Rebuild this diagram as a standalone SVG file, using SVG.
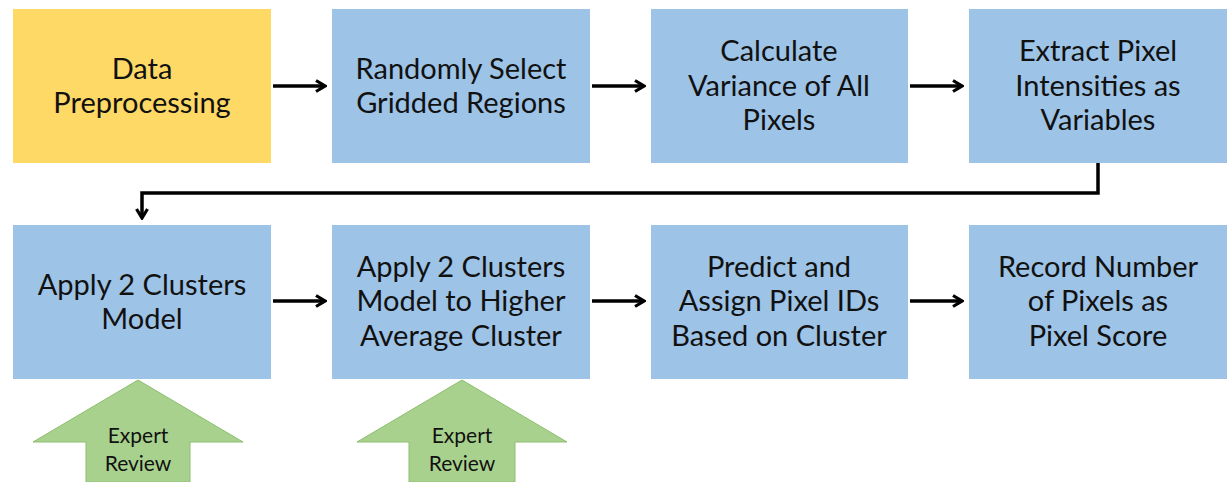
<svg xmlns="http://www.w3.org/2000/svg" width="1231" height="482" viewBox="0 0 1231 482">
<defs>
<style>
.box{fill:#9DC3E6}
.y{fill:#FFD966}
.t{font-family:Lato,"Open Sans",sans-serif;font-size:29px;fill:#111;text-anchor:middle;dominant-baseline:central}
.g{font-family:Lato,"Open Sans",sans-serif;font-size:21px;fill:#111;text-anchor:middle;dominant-baseline:central}
.c{fill:none;stroke:#000;stroke-width:3.5}
.ga{fill:#A9D18E;stroke:#8DBF6E;stroke-width:1}
</style>
<marker id="ah" viewBox="0 0 14 14" refX="12" refY="7" markerWidth="14" markerHeight="14" markerUnits="userSpaceOnUse" orient="auto">
<path d="M3,1.5 L12,7 L3,12.5" fill="none" stroke="#000" stroke-width="3.2"/>
</marker>
</defs>
<rect width="1231" height="482" fill="#fff"/>
<g id="n1"><rect class="y" x="13" y="9" width="258" height="154"/><text class="t" x="142" y="67">Data</text><text class="t" x="142" y="101">Preprocessing</text></g>
<g id="n2"><rect class="box" x="332" y="9" width="258" height="154"/><text class="t" x="461" y="67">Randomly Select</text><text class="t" x="461" y="101">Gridded Regions</text></g>
<g id="n3"><rect class="box" x="651" y="9" width="257" height="154"/><text class="t" x="779" y="49">Calculate</text><text class="t" x="779" y="84">Variance of All</text><text class="t" x="779" y="118">Pixels</text></g>
<g id="n4"><rect class="box" x="969" y="9" width="258" height="154"/><text class="t" x="1098" y="49">Extract Pixel</text><text class="t" x="1098" y="84">Intensities as</text><text class="t" x="1098" y="118">Variables</text></g>
<g id="n5"><rect class="box" x="13" y="225" width="258" height="154"/><text class="t" x="142" y="283">Apply 2 Clusters</text><text class="t" x="142" y="317">Model</text></g>
<g id="n6"><rect class="box" x="332" y="225" width="258" height="154"/><text class="t" x="461" y="265">Apply 2 Clusters</text><text class="t" x="461" y="299">Model to Higher</text><text class="t" x="461" y="334">Average Cluster</text></g>
<g id="n7"><rect class="box" x="651" y="225" width="257" height="154"/><text class="t" x="779" y="265">Predict and</text><text class="t" x="779" y="299">Assign Pixel IDs</text><text class="t" x="779" y="334">Based on Cluster</text></g>
<g id="n8"><rect class="box" x="969" y="225" width="258" height="154"/><text class="t" x="1098" y="265">Record Number</text><text class="t" x="1098" y="299">of Pixels as</text><text class="t" x="1098" y="334">Pixel Score</text></g>
<g id="er1"><polygon class="ga" points="138,380 243,442 190,442 190,482 86,482 86,442 33,442"/><text class="g" x="138" y="434">Expert</text><text class="g" x="138" y="462">Review</text></g>
<g id="er2"><polygon class="ga" points="462,380 567,442 515,442 515,482 409,482 409,442 357,442"/><text class="g" x="462" y="434">Expert</text><text class="g" x="462" y="462">Review</text></g>
<g id="connectors">
<line class="c" x1="273" y1="86" x2="325" y2="86" marker-end="url(#ah)"/>
<line class="c" x1="592" y1="86" x2="644" y2="86" marker-end="url(#ah)"/>
<line class="c" x1="910" y1="86" x2="962" y2="86" marker-end="url(#ah)"/>
<polyline class="c" points="1098,163 1098,193 142,193 142,218" marker-end="url(#ah)"/>
<line class="c" x1="273" y1="301" x2="325" y2="301" marker-end="url(#ah)"/>
<line class="c" x1="592" y1="301" x2="644" y2="301" marker-end="url(#ah)"/>
<line class="c" x1="910" y1="301" x2="962" y2="301" marker-end="url(#ah)"/>
</g>
</svg>
